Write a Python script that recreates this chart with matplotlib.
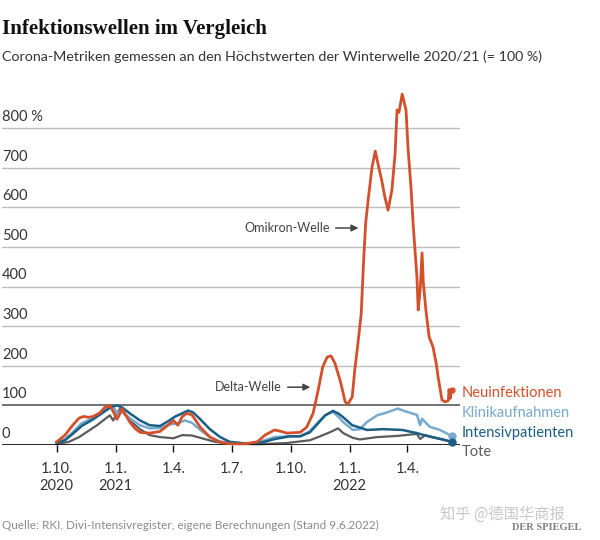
import matplotlib
matplotlib.use("Agg")
import matplotlib.pyplot as plt
import matplotlib.dates as mdates
import matplotlib.transforms as mtransforms
import pandas as pd

# ---------------- data ----------------
neu_dates = ["2020-10-01", "2020-10-14", "2020-10-26", "2020-11-05", "2020-11-12", "2020-11-20",
             "2020-11-27", "2020-12-08", "2020-12-15", "2020-12-23", "2020-12-29", "2021-01-03",
             "2021-01-08", "2021-01-11", "2021-01-17", "2021-01-23", "2021-01-31", "2021-02-08",
             "2021-02-23", "2021-03-11", "2021-03-22", "2021-04-01", "2021-04-08", "2021-04-15",
             "2021-04-22", "2021-04-30", "2021-05-13", "2021-05-28", "2021-06-13", "2021-06-28",
             "2021-07-22", "2021-08-10", "2021-08-22", "2021-09-06", "2021-09-17", "2021-09-25",
             "2021-10-16", "2021-10-26", "2021-11-05", "2021-11-13", "2021-11-20", "2021-11-27",
             "2021-12-03", "2021-12-09", "2021-12-17", "2021-12-22", "2021-12-25", "2021-12-29",
             "2022-01-05", "2022-01-09", "2022-01-14", "2022-01-19", "2022-01-21", "2022-01-23",
             "2022-01-26", "2022-01-30", "2022-02-05", "2022-02-10", "2022-02-14", "2022-02-20",
             "2022-02-25", "2022-03-02", "2022-03-08", "2022-03-13", "2022-03-16", "2022-03-19",
             "2022-03-24", "2022-03-27", "2022-03-30", "2022-04-02", "2022-04-07", "2022-04-10",
             "2022-04-13", "2022-04-16", "2022-04-18", "2022-04-21", "2022-04-24", "2022-04-26",
             "2022-04-30", "2022-05-05", "2022-05-11", "2022-05-16", "2022-05-19", "2022-05-25",
             "2022-05-30", "2022-06-04", "2022-06-05", "2022-06-07", "2022-06-09"]
neu_values = [8, 25, 50, 68, 72, 70,
              72, 82, 95, 100, 82, 65,
              80, 92, 75, 58, 42, 32,
              30, 34, 48, 62, 50, 72,
              80, 76, 45, 20, 7, 3,
              3, 8, 25, 38, 34, 30,
              32, 45, 80, 139, 197, 222,
              225, 207, 164, 131, 109, 103,
              121, 189, 257, 330, 400, 470,
              560, 620, 702, 742, 712, 669,
              626, 593, 644, 737, 846, 840,
              886, 866, 846, 753, 644, 560,
              492, 424, 341, 391, 485, 409,
              341, 273, 248, 207, 172, 114,
              109, 112, 140, 118, 139]

klinik_dates = ["2020-10-01", "2020-10-14", "2020-10-26", "2020-11-09", "2020-11-27", "2020-12-15",
                "2020-12-28", "2021-01-03", "2021-01-08", "2021-01-14", "2021-01-23", "2021-02-08",
                "2021-02-23", "2021-03-11", "2021-03-27", "2021-04-08", "2021-04-19", "2021-04-30",
                "2021-05-13", "2021-05-28", "2021-06-13", "2021-07-06", "2021-07-30", "2021-08-22",
                "2021-09-06", "2021-09-30", "2021-10-16", "2021-10-31", "2021-11-13", "2021-11-24",
                "2021-12-06", "2021-12-14", "2021-12-22", "2022-01-01", "2022-01-06", "2022-01-17",
                "2022-01-28", "2022-02-13", "2022-02-28", "2022-03-17", "2022-03-31", "2022-04-16",
                "2022-04-21", "2022-04-24", "2022-05-06", "2022-05-22", "2022-06-09"]
klinik_values = [5, 15, 32, 55, 68, 88,
                 98, 80, 85, 80, 68, 50,
                 42, 43, 52, 55, 62, 56,
                 38, 20, 9, 4, 4, 12,
                 20, 22, 22, 35, 58, 75,
                 84, 72, 58, 45, 38, 40,
                 58, 75, 82, 92, 84, 76,
                 50, 66, 46, 38, 23]

its_dates = ["2020-10-01", "2020-10-14", "2020-10-26", "2020-11-09", "2020-11-27", "2020-12-15",
             "2020-12-26", "2021-01-03", "2021-01-11", "2021-01-23", "2021-02-08", "2021-02-23",
             "2021-03-11", "2021-03-24", "2021-04-04", "2021-04-15", "2021-04-24", "2021-05-02",
             "2021-05-13", "2021-05-28", "2021-06-13", "2021-06-28", "2021-07-22", "2021-08-14",
             "2021-09-06", "2021-09-30", "2021-10-16", "2021-10-31", "2021-11-13", "2021-11-24",
             "2021-12-06", "2021-12-14", "2021-12-22", "2022-01-05", "2022-01-17", "2022-01-28",
             "2022-02-22", "2022-03-24", "2022-04-16", "2022-05-06", "2022-05-27", "2022-06-09"]
its_values = [5, 12, 28, 48, 65, 85,
              97, 100, 95, 80, 62, 50,
              48, 60, 72, 80, 87, 82,
              65, 40, 20, 8, 4, 5,
              15, 22, 22, 32, 55, 75,
              86, 80, 70, 50, 44, 38,
              40, 38, 30, 21, 14, 8]

tote_dates = ["2020-10-01", "2020-10-20", "2020-11-05", "2020-11-19", "2020-12-03", "2020-12-15",
              "2020-12-23", "2020-12-28", "2021-01-03", "2021-01-08", "2021-01-14", "2021-01-23",
              "2021-02-08", "2021-02-23", "2021-03-11", "2021-04-01", "2021-04-15", "2021-04-30",
              "2021-05-20", "2021-06-05", "2021-06-28", "2021-08-14", "2021-09-25", "2021-10-31",
              "2021-11-16", "2021-12-01", "2021-12-14", "2021-12-22", "2022-01-06", "2022-01-17",
              "2022-02-13", "2022-03-17", "2022-04-16", "2022-04-21", "2022-04-29", "2022-05-27",
              "2022-06-09"]
tote_values = [2, 8, 20, 35, 50, 65,
               75, 62, 80, 92, 80, 62,
               40, 25, 20, 17, 25, 24,
               15, 8, 3, 2, 5, 12,
               22, 32, 42, 30, 18, 14,
               20, 23, 28, 15, 25, 13,
               8]

y_ticks = [0, 100, 200, 300, 400, 500, 600, 700, 800]
y_tick_labels = ["0", "100", "200", "300", "400", "500", "600", "700", "800 %"]
x_tick_dates = ["2020-10-01", "2021-01-01", "2021-04-01", "2021-07-01", "2021-10-01",
                "2022-01-01", "2022-04-01"]
x_tick_labels = ["1.10.\n2020", "1.1.\n2021", "1.4.", "1.7.", "1.10.", "1.1.\n2022", "1.4."]

series_names = ["Neuinfektionen", "Klinikaufnahmen", "Intensivpatienten", "Tote"]

# ---------------- style ----------------
RED = "#d4502a"
LBLUE = "#78a9cf"
DBLUE = "#1b5e84"
GREY = "#5c5c5c"
SANS = "Lato"

fig = plt.figure(figsize=(6, 5.4), dpi=100)
W, H = 600, 540
ax = fig.add_axes([2 / W, (H - 445) / H, 458 / W, 356.4 / H])

x0 = pd.Timestamp("2020-10-01")
ax.set_xlim(mdates.date2num(x0 - pd.Timedelta(days=85.3)),
            mdates.date2num(x0 + pd.Timedelta(days=629.2)))
ax.set_ylim(0, 900)

for s in ax.spines.values():
    s.set_visible(False)

# gridlines
for v in y_ticks:
    if v == 0:
        ax.axhline(v, color="#111111", lw=1.3, zorder=5)
    elif v == 100:
        ax.axhline(v, color="#666666", lw=1.3, zorder=1)
    else:
        ax.axhline(v, color="#bdbdbd", lw=1.0, zorder=1)

# y labels above gridlines
ytrans = mtransforms.blended_transform_factory(ax.transAxes, ax.transData)
for v, lab in zip(y_ticks, y_tick_labels):
    ax.text(0.0, v, lab, transform=ytrans + mtransforms.ScaledTranslation(0, 3 / 72, fig.dpi_scale_trans),
            ha="left", va="bottom", fontsize=10.5, family=SANS, color="#333333")
ax.set_yticks([])

# series
def d(lst):
    return pd.to_datetime(lst)

ax.plot(d(tote_dates), tote_values, color=GREY, lw=1.6, zorder=3, clip_on=False)
ax.plot(d(klinik_dates), klinik_values, color=LBLUE, lw=1.8, zorder=3, clip_on=False)
ax.plot(d(its_dates), its_values, color=DBLUE, lw=1.8, zorder=4, clip_on=False)
ax.plot(d(neu_dates), neu_values, color=RED, lw=2.0, zorder=6, clip_on=False)

# end dots
ax.plot(d(klinik_dates[-1:]), klinik_values[-1:], "o", color=LBLUE, ms=5, zorder=7, clip_on=False)
ax.plot(d(its_dates[-1:]), its_values[-1:], "o", color=DBLUE, ms=5, zorder=7, clip_on=False)
ax.plot(d(neu_dates[-1:]), neu_values[-1:], "o", color=RED, ms=3.5, zorder=7, clip_on=False)

# x ticks
ax.set_xticks(mdates.date2num(d(x_tick_dates)))
ax.set_xticklabels(x_tick_labels, fontsize=10.5, family=SANS, color="#333333", linespacing=1.3)
ax.tick_params(axis="x", length=5, width=1, color="#111111", pad=7)

# series labels at the right
ltrans = mtransforms.blended_transform_factory(ax.transAxes, ax.transData)
for name, yv, col in zip(series_names, [131, 81, 30, -18], [RED, LBLUE, DBLUE, GREY]):
    ax.text(1.003, yv, name, transform=ltrans, ha="left", va="center",
            fontsize=10.5, family=SANS, color=col)

# annotations
ax.annotate("", xy=(mdates.date2num(pd.Timestamp("2022-01-19")), 548),
            xytext=(mdates.date2num(pd.Timestamp("2021-12-06")), 548),
            arrowprops=dict(arrowstyle="-|>", color="#444444", lw=1.1, mutation_scale=10))
ax.text(mdates.date2num(pd.Timestamp("2021-12-01")), 548, "Omikron-Welle",
        ha="right", va="center", fontsize=9, family=SANS, color="#444444")
ax.annotate("", xy=(mdates.date2num(pd.Timestamp("2021-11-05")), 146),
            xytext=(mdates.date2num(pd.Timestamp("2021-09-22")), 146),
            arrowprops=dict(arrowstyle="-|>", color="#444444", lw=1.1, mutation_scale=10))
ax.text(mdates.date2num(pd.Timestamp("2021-09-17")), 146, "Delta-Welle",
        ha="right", va="center", fontsize=9, family=SANS, color="#444444")

# titles and footer
fig.text(2 / W, 1 - 29 / H, "Infektionswellen im Vergleich", ha="left", va="center",
         fontsize=15, family="Liberation Serif", fontweight="bold", color="#111111")
fig.text(2 / W, 1 - 57 / H, "Corona-Metriken gemessen an den Höchstwerten der Winterwelle 2020/21 (= 100 %)",
         ha="left", va="center", fontsize=10.3, family=SANS, color="#333333")
fig.text(2 / W, 1 - 525 / H, "Quelle: RKI, Divi-Intensivregister, eigene Berechnungen (Stand 9.6.2022)",
         ha="left", va="center", fontsize=8.5, family=SANS, color="#8a8a8a")
fig.text(440 / W, 1 - 514 / H, "知乎 @德国华商报", ha="left", va="center", fontsize=11,
         family=["Noto Sans CJK SC", "DejaVu Sans"], color="#c8c8c8")
fig.text(581 / W, 1 - 527 / H, "DER SPIEGEL", ha="right", va="center", fontsize=7.5,
         family="Liberation Serif", fontweight="bold", color="#808080")

fig.savefig("out.png", dpi=100)
